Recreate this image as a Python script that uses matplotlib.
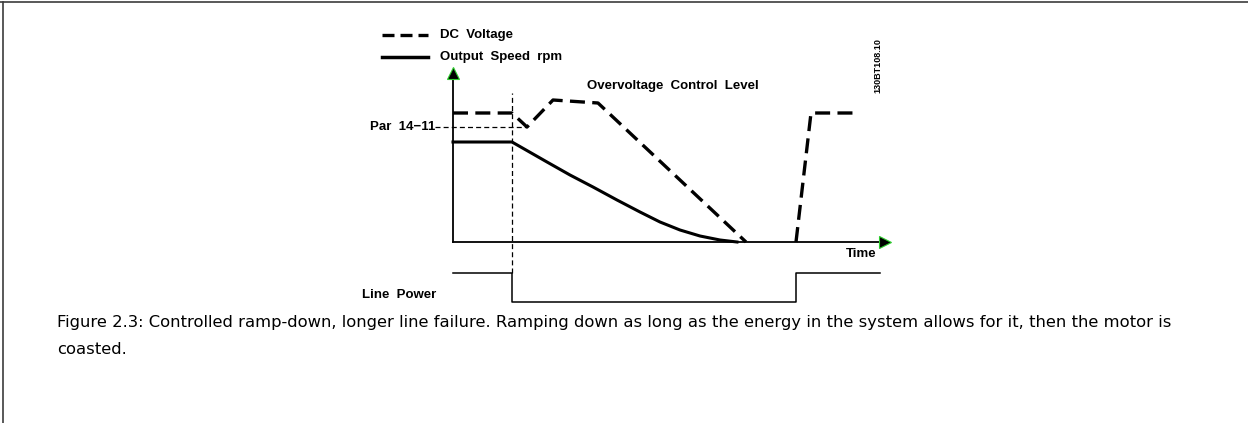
import matplotlib.pyplot as plt
from matplotlib.lines import Line2D

# diagram units: 1 unit = 1 px, origin at the corner of the time axes
dc_t = [0, 59, 74, 100, 145, 293]
dc_v = [129, 129, 115, 142, 139, 0]
dc_restart_t = [343, 358, 405]
dc_restart_v = [0, 129, 129]

speed_t = [0, 59, 94, 117, 140, 164, 187, 207, 227, 247, 267, 284]
speed_v = [100, 100, 80, 67, 55, 42, 30, 20, 12, 6, 2, 0]

power_t = [0, 59, 59, 343, 343, 427]
power_v = [-31, -31, -60, -60, -31, -31]

par_level = 115
fail_t = 59
t_end = 437
v_top = 174

caption = ["Figure 2.3: Controlled ramp-down, longer line failure. Ramping down as long as the energy "
           "in the system allows for it, then the motor is",
           "coasted."]

plt.rcParams.update({'font.family': 'DejaVu Sans'})
fig = plt.figure(figsize=(12.48, 4.23), dpi=100)
ax = fig.add_axes([0, 0, 1, 1])
ax.set_xlim(-453, 795)
ax.set_ylim(-181, 242)
ax.axis("off")

# page frame
fig.add_artist(Line2D([0, 1], [1 - 2.5/423]*2, transform=fig.transFigure, color="#3c3c3c", lw=1.2))
fig.add_artist(Line2D([2.5/1248]*2, [0, 1 - 2.5/423], transform=fig.transFigure, color="#3c3c3c", lw=1.2))

# axes with arrow heads
ax.plot([0, 0], [0, v_top - 4], color="black", lw=1.3)
ax.plot([0, t_end - 4], [0, 0], color="black", lw=1.3)
ax.plot(0, v_top - 5, marker="^", ms=8, mfc="black", mec="#2ecc2e", mew=0.8)
ax.plot(t_end - 5, 0, marker=">", ms=8, mfc="black", mec="#2ecc2e", mew=0.8)

thin = dict(color="black", lw=0.9, linestyle=(0, (4, 2.5)))
ax.plot([fail_t, fail_t], [power_v[0], 149], **thin)
ax.plot([-18, 74], [par_level, par_level], **thin)

dash = dict(color="black", lw=2.4, linestyle=(0, (4.5, 2.2)), solid_capstyle="butt", dash_capstyle="butt")
ax.plot(dc_t, dc_v, **dash)
ax.plot(dc_restart_t, dc_restart_v, **dash)
ax.plot(speed_t, speed_v, color="black", lw=2.2, solid_joinstyle="round")
ax.plot(power_t, power_v, color="black", lw=1.1)

# legend
ax.plot([-71, -25], [207, 207], color="black", lw=2.4, linestyle=(0, (3.6, 1.8)), dash_capstyle="butt")
ax.plot([-71, -25], [185, 185], color="black", lw=2.5)

lab = dict(family="Liberation Sans", fontweight="bold", fontsize=9.5, color="black", va="center")
ax.text(-13, 207, "DC  Voltage", ha="left", **lab)
ax.text(-13, 185, "Output  Speed  rpm", ha="left", **lab)
ax.text(134, 156, "Overvoltage  Control  Level", ha="left", **lab)
ax.text(-18, par_level, "Par  14\u221211", ha="right", **lab)
ax.text(424, -12, "Time", ha="right", **lab)
ax.text(-17, -53, "Line  Power", ha="right", **lab)
ax.text(425, 176, "130BT108.10", ha="center", rotation=90, family="Liberation Sans",
        fontweight="bold", fontsize=6.5, va="center")

cap = dict(fontsize=11.75, color="black", va="center", ha="left")
ax.text(-396, -81, caption[0], **cap)
ax.text(-396, -108, caption[1], **cap)

fig.savefig("out.png", dpi=100)
